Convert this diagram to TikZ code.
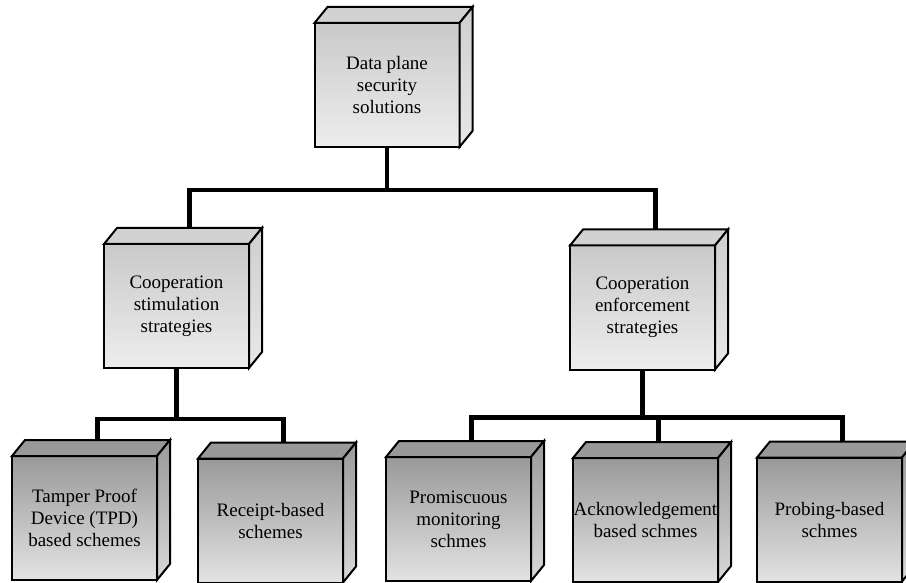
\documentclass[tikz,border=0pt]{standalone}
\usepackage{fontspec}
\setmainfont{Liberation Serif}
\tikzset{
  cube/.style={draw, line width=2pt, outer sep=0pt, minimum width=145pt,
    minimum height=124pt, inner xsep=0pt, align=center,
    font=\fontsize{19}{22}\selectfont},
  upper/.style={cube, top color=gray!42, bottom color=gray!14},
  lower/.style={cube, top color=gray!80, bottom color=gray!22},
  face/.style={line width=2pt},
  link/.style={line width=4.5pt},
}
\begin{document}
\begin{tikzpicture}[x=1pt,y=-1pt]
  \useasboundingbox (0,0) rectangle (906,583);
  % first levels
  \node[upper] at (387,85) (top) {Data plane\\security\\solutions};
  \node[upper] at (176.5,306) (midL) {Cooperation\\stimulation\\strategies};
  \node[upper] at (642.5,307.5) (midR) {Cooperation\\enforcement\\strategies};
  % leaves
  \node[lower] at (84.5,518) (b1) {Tamper Proof\\Device (TPD)\\based schemes};
  \node[lower] at (270.5,520.5) (b2) {Receipt-based\\schemes};
  \node[lower] at (458.5,519) (b3) {Promiscuous\\monitoring\\schmes};
  \node[lower] at (645.5,520) (b4) {Acknowledgement\\based schmes};
  \node[lower] at (829.5,519.5) (b5) {Probing-based\\schmes};
  % lids and sides
  \foreach \n in {top,midL,midR}{
    \filldraw[face, fill=gray!35] (\n.north west) -- ++(13,-16) -- ([shift={(13,-16)}]\n.north east) -- (\n.north east) -- cycle;
    \draw[face, top color=gray!38, bottom color=gray!18] (\n.north east) -- ++(13,-16) -- ([shift={(13,-16)}]\n.south east) -- (\n.south east) -- cycle;
    \coordinate (\n-lid) at ([shift={(13,-16)}]\n.north);
  }
  \foreach \n in {b1,b2,b3,b4,b5}{
    \filldraw[face, fill=gray!80] (\n.north west) -- ++(13,-16) -- ([shift={(13,-16)}]\n.north east) -- (\n.north east) -- cycle;
    \draw[face, top color=gray!80, bottom color=gray!30] (\n.north east) -- ++(13,-16) -- ([shift={(13,-16)}]\n.south east) -- (\n.south east) -- cycle;
    \coordinate (\n-lid) at ([shift={(13,-16)}]\n.north);
  }
  % connectors
  \draw[link] (top.south) -- ++(0,43) coordinate (j1);
  \draw[link] (midL-lid) |- (j1) -| (midR-lid);
  \draw[link] (midL.south) -- ++(0,51) coordinate (j2);
  \draw[link] (b1-lid) |- (j2) -| (b2-lid);
  \draw[link] (midR.south) -- ++(0,48) coordinate (j3);
  \draw[link] (b3-lid) |- (j3) -| (b5-lid);
  \draw[link] (b4-lid) -- (b4-lid |- j3);
\end{tikzpicture}
\end{document}
